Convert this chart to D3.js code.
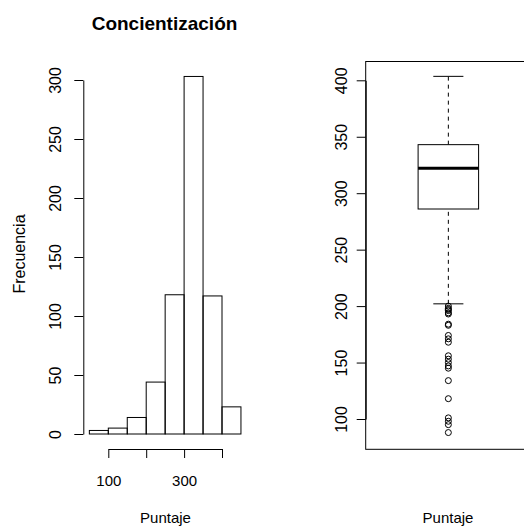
<!DOCTYPE html>
<html>
<head>
<meta charset="utf-8">
<script src="https://cdn.jsdelivr.net/npm/d3@7"></script>
<style>
  body { margin: 0; background: #fff; }
  svg { display: block; font-family: "Liberation Sans", Arial, sans-serif; }
  .axis path, .axis line { stroke: #000; stroke-width: 1; }
  .axis text { font-size: 15px; fill: #000; }
  .axis.vert text { font-size: 16px; }
</style>
</head>
<body>
<div id="chart"></div>
<script>
// histogram data (breaks every 50)
let BIN_STARTS = [50, 100, 150, 200, 250, 300, 350, 400];
let BIN_WIDTH = 50;
let COUNTS = [3, 5, 14, 44, 118, 303, 117, 23];
let HIST_X_TICKS = [100, 200, 300, 400];
let HIST_X_LABELS = ["100", "", "300", ""];
let HIST_Y_TICKS = [0, 50, 100, 150, 200, 250, 300];

// boxplot stats: lower whisker, Q1, median, Q3, upper whisker
let BOX_STATS = [202, 286, 322, 343, 403.5];
let OUTLIERS = [200, 198, 197, 196, 194, 193, 184, 183, 174, 171, 168,
                156, 153, 150, 147, 145, 134, 118, 101, 98, 95, 88];
let BOX_Y_TICKS = [100, 150, 200, 250, 300, 350, 400];

let FRAME_WIDTH = 524;
let FRAME_HEIGHT = 527;

let SVG = d3.select("#chart")
            .append("svg")
            .attr("width", FRAME_WIDTH)
            .attr("height", FRAME_HEIGHT);

// ---------- histogram ----------
const HX = d3.scaleLinear().domain([100, 400]).range([108.3, 222]);
const HY = d3.scaleLinear().domain([0, 300]).range([434, 80]);

SVG.selectAll(".bar")
    .data(COUNTS)
    .enter()
    .append("rect")
        .attr("class", "bar")
        .attr("x", (d, i) => HX(BIN_STARTS[i]))
        .attr("y", (d) => HY(d))
        .attr("width", (d, i) => HX(BIN_STARTS[i] + BIN_WIDTH) - HX(BIN_STARTS[i]))
        .attr("height", (d) => HY(0) - HY(d))
        .attr("fill", "none")
        .attr("stroke", "#000")
        .attr("stroke-width", 1);

// bottom axis
let hxAxis = SVG.append("g")
    .attr("class", "axis")
    .attr("transform", "translate(0,449)")
    .call(d3.axisBottom(HX)
            .tickValues(HIST_X_TICKS)
            .tickFormat((d, i) => HIST_X_LABELS[i])
            .tickSize(9)
            .tickSizeOuter(0));
hxAxis.selectAll("text").attr("y", 37).attr("dy", 0);

// left axis
let hyAxis = SVG.append("g")
    .attr("class", "axis vert")
    .attr("transform", "translate(83.3,0)")
    .call(d3.axisLeft(HY)
            .tickValues(HIST_Y_TICKS)
            .tickSize(9)
            .tickSizeOuter(0));
hyAxis.selectAll(".tick text")
    .attr("transform", "rotate(-90)")
    .attr("x", 0)
    .attr("y", -22)
    .attr("dy", 0)
    .attr("text-anchor", "middle");

// titles
SVG.append("text")
    .attr("x", 164.5)
    .attr("y", 30)
    .attr("text-anchor", "middle")
    .attr("font-size", "19px")
    .attr("font-weight", "bold")
    .text("Concientización");

SVG.append("text")
    .attr("transform", "translate(25,254) rotate(-90)")
    .attr("text-anchor", "middle")
    .attr("font-size", "16px")
    .text("Frecuencia");

SVG.append("text")
    .attr("x", 165.5)
    .attr("y", 523)
    .attr("text-anchor", "middle")
    .attr("font-size", "15px")
    .text("Puntaje");

// ---------- boxplot ----------
const BX = d3.scaleLinear().domain([0.5, 1.5]).range([365.7, 531]);
const BY = d3.scaleLinear().domain([100, 400]).range([419, 80.3]);
const HALF_BOX = 0.183;
const HALF_CAP = 0.091;

// frame
SVG.append("rect")
    .attr("x", BX(0.5))
    .attr("y", 61.5)
    .attr("width", BX(1.5) - BX(0.5))
    .attr("height", 449.3 - 61.5)
    .attr("fill", "none")
    .attr("stroke", "#000");

// whiskers (dashed)
SVG.selectAll(".whisker")
    .data([[BOX_STATS[0], BOX_STATS[1]], [BOX_STATS[3], BOX_STATS[4]]])
    .enter()
    .append("line")
        .attr("x1", BX(1)).attr("x2", BX(1))
        .attr("y1", (d) => BY(d[0]))
        .attr("y2", (d) => BY(d[1]))
        .attr("stroke", "#000")
        .attr("stroke-dasharray", "4,4");

// staples
SVG.selectAll(".staple")
    .data([BOX_STATS[0], BOX_STATS[4]])
    .enter()
    .append("line")
        .attr("x1", BX(1 - HALF_CAP)).attr("x2", BX(1 + HALF_CAP))
        .attr("y1", (d) => BY(d)).attr("y2", (d) => BY(d))
        .attr("stroke", "#000");

// box
SVG.append("rect")
    .attr("x", BX(1 - HALF_BOX))
    .attr("y", BY(BOX_STATS[3]))
    .attr("width", BX(1 + HALF_BOX) - BX(1 - HALF_BOX))
    .attr("height", BY(BOX_STATS[1]) - BY(BOX_STATS[3]))
    .attr("fill", "#fff")
    .attr("stroke", "#000");

// median
SVG.append("line")
    .attr("x1", BX(1 - HALF_BOX)).attr("x2", BX(1 + HALF_BOX))
    .attr("y1", BY(BOX_STATS[2])).attr("y2", BY(BOX_STATS[2]))
    .attr("stroke", "#000")
    .attr("stroke-width", 3);

// outliers
SVG.selectAll(".out")
    .data(OUTLIERS)
    .enter()
    .append("circle")
        .attr("cx", BX(1))
        .attr("cy", (d) => BY(d))
        .attr("r", 3)
        .attr("fill", "none")
        .attr("stroke", "#000");

let byAxis = SVG.append("g")
    .attr("class", "axis vert")
    .attr("transform", "translate(365.7,0)")
    .call(d3.axisLeft(BY)
            .tickValues(BOX_Y_TICKS)
            .tickSize(9)
            .tickSizeOuter(0));
byAxis.selectAll(".tick text")
    .attr("transform", "rotate(-90)")
    .attr("x", 0)
    .attr("y", -19)
    .attr("dy", 0)
    .attr("text-anchor", "middle");

SVG.append("text")
    .attr("x", 448)
    .attr("y", 523)
    .attr("text-anchor", "middle")
    .attr("font-size", "15px")
    .text("Puntaje");
</script>
</body>
</html>
